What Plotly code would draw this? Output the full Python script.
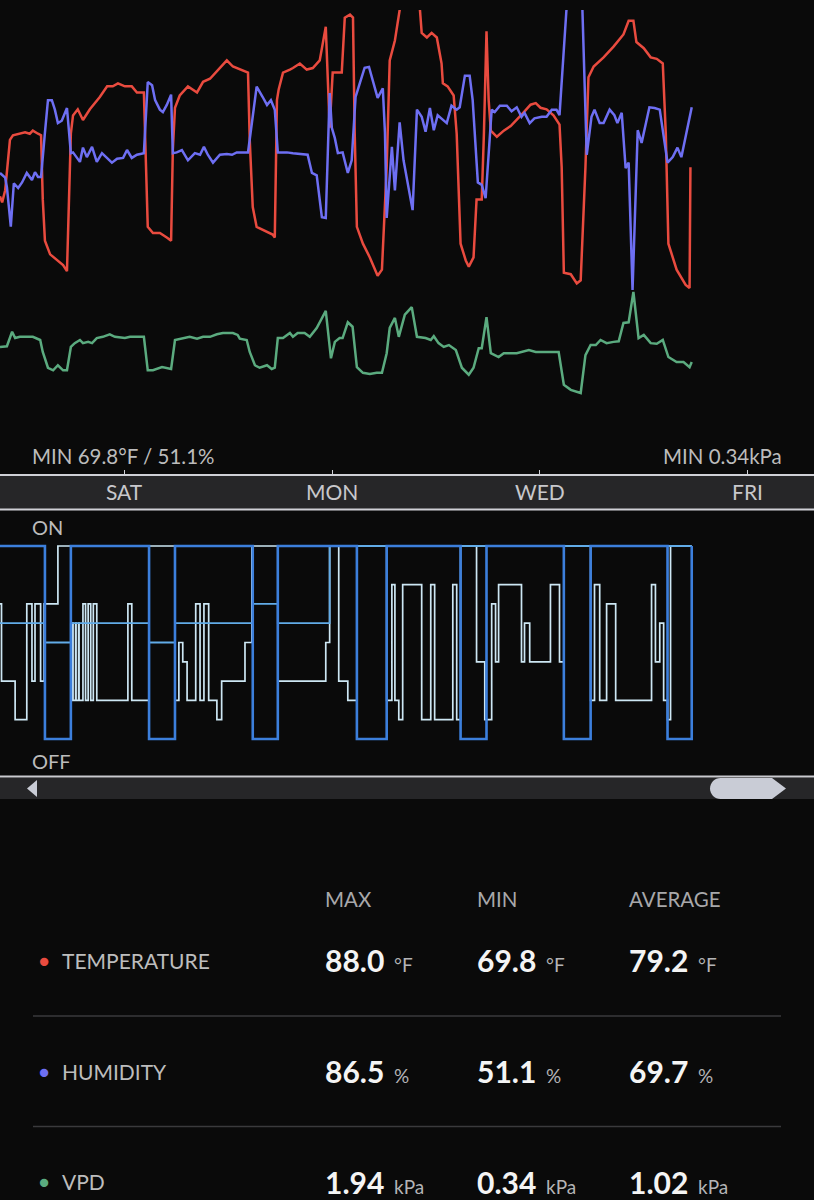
import plotly.graph_objects as go

W, H = 814, 1200
def px(x): return x / W
def py(y): return 1 - y / H

# ---------------- data (x = hours since start of window) ----------------
temp_hours = [0.0,0.5,1.2,2.3,3.0,4.6,5.8,6.9,7.6,8.8,
              9.5,9.9,10.4,11.6,13.2,14.6,15.5,16.0,16.4,16.9,
              18.0,19.2,20.8,23.1,24.8,26.1,27.3,28.9,30.5,31.7,
              33.3,33.8,34.2,35.4,37.0,38.6,39.6,40.0,40.5,41.6,
              43.5,45.6,47.0,48.6,50.9,52.5,53.9,57.4,57.8,58.5,
              59.4,60.8,63.1,63.6,64.1,64.5,65.5,67.1,67.8,69.4,
              71.0,72.4,74.0,75.4,76.3,77.0,79.1,79.8,81.0,81.7,
              82.1,82.6,84.0,85.6,87.4,88.4,89.5,90.2,91.4,92.5,
              94.8,97.2,97.6,98.8,99.9,101.1,102.2,102.5,103.6,105.0,
              105.7,106.6,107.8,108.5,109.6,110.3,111.5,112.0,112.6,113.1,
              113.6,115.0,116.6,118.2,119.6,121.2,122.8,124.0,125.1,126.5,
              128.1,129.5,130.0,130.5,132.1,133.5,134.4,135.5,136.2,137.4,
              139.7,142.0,144.3,145.5,146.6,147.3,149.0,150.6,152.0,153.4,
              154.1,154.7,156.6,158.7,159.6,159.8]
temp_values = [75.8,75.4,76.2,79.5,79.8,79.9,80.0,79.9,80.1,79.9,
               79.8,75.6,72.9,72.0,71.6,71.3,70.9,75.6,79.9,81.1,
               81.5,80.8,81.5,82.3,83.0,83.0,83.2,83.0,83.0,82.6,
               82.6,77.7,73.8,73.4,73.4,73.1,72.9,78.8,81.6,82.4,
               83.0,82.6,83.3,83.5,84.2,84.7,84.3,83.9,79.5,75.1,
               73.8,73.6,73.3,73.1,82.1,82.8,83.9,84.1,84.2,84.5,
               84.1,84.2,84.7,86.9,80.3,83.9,83.9,87.5,87.7,87.5,
               79.9,73.8,72.7,71.8,70.6,71.0,77.7,84.7,86.0,88.0,
               89.3,88.0,86.5,86.2,86.5,86.2,84.5,83.2,83.0,82.4,
               79.9,72.7,71.6,71.2,71.8,75.6,75.6,79.9,86.6,82.1,
               80.1,79.7,80.1,80.4,80.8,81.3,81.8,81.9,81.6,81.5,
               81.1,80.5,77.7,70.8,70.7,70.1,70.3,77.7,83.6,84.3,
               84.9,85.6,86.4,87.3,87.3,85.9,85.5,84.9,84.8,84.5,
               79.9,72.7,71.0,70.0,69.8,77.7]

hum_hours = [0.0,1.2,1.6,2.5,3.2,4.2,5.1,6.2,7.4,8.1,
             8.8,9.5,10.4,11.1,12.0,12.7,13.4,14.3,15.5,15.7,
             16.4,16.9,17.8,18.5,19.2,20.1,21.3,22.4,23.6,24.7,
             25.9,27.1,28.5,29.4,30.5,31.7,33.3,34.2,35.2,35.9,
             37.0,37.7,38.6,39.6,40.0,40.9,42.1,43.5,45.1,46.3,
             47.2,48.1,49.3,50.9,52.5,53.7,54.8,57.4,58.5,59.4,
             60.8,61.8,62.7,63.6,64.3,66.4,67.8,69.4,71.2,72.2,
             73.3,74.5,75.4,76.3,76.8,77.5,78.2,79.3,80.5,81.4,
             82.3,83.3,84.4,85.4,86.3,87.4,88.6,89.1,89.5,90.7,
             91.4,92.5,93.4,95.5,96.5,97.6,98.5,99.5,100.4,101.3,
             103.4,104.5,105.7,106.4,107.6,108.7,109.4,110.6,111.5,112.4,
             113.8,114.5,115.7,117.3,118.4,119.6,120.7,121.4,122.6,123.7,
             125.4,126.5,127.7,128.8,129.5,131.1,133.0,134.8,135.8,136.9,
             137.6,138.8,139.7,141.1,142.2,142.9,143.9,144.8,145.5,146.4,
             147.6,148.5,150.3,151.5,152.7,154.5,155.7,156.8,157.7,160.1]
hum_values = [65.9,65.3,64.1,59.1,64.6,64.0,64.7,65.9,65.0,66.0,
              65.4,65.4,71.0,75.1,75.1,73.9,72.2,72.5,74.1,73.0,
              68.4,68.5,67.9,67.3,69.1,67.9,69.2,67.3,68.4,67.8,
              67.2,67.7,67.8,68.8,67.8,68.2,68.4,77.4,77.0,75.1,
              73.9,73.6,74.5,75.8,68.4,68.5,68.8,67.5,68.4,68.2,
              69.2,68.2,67.2,68.2,68.3,68.2,68.5,68.5,73.5,76.8,
              75.5,74.5,75.1,73.9,68.5,68.5,68.4,68.3,68.2,65.9,
              65.6,60.3,60.2,76.0,71.6,70.3,68.4,68.5,65.9,67.5,
              75.5,77.3,79.2,79.3,77.6,75.4,76.6,71.0,60.2,69.2,
              63.7,72.3,67.5,61.2,73.9,73.0,71.1,74.1,71.3,73.2,
              72.2,74.4,73.9,74.2,78.2,78.2,75.1,64.7,64.4,62.7,
              73.9,73.6,74.4,74.4,73.7,74.2,73.0,73.5,72.2,72.8,
              73.0,73.0,73.9,73.9,73.2,86.5,90.3,86.5,68.2,73.0,
              73.9,72.2,72.2,73.9,73.2,72.2,73.5,66.5,67.2,51.1,
              71.3,69.7,74.2,74.1,73.9,67.2,67.9,69.1,67.9,74.2]

vpd_hours = [0.0,1.6,2.8,3.5,4.6,6.2,7.6,9.3,9.9,11.1,
             12.3,13.4,14.6,15.5,16.4,17.3,18.5,19.2,20.4,21.3,
             22.4,23.8,25.4,26.6,28.9,30.1,33.3,34.2,35.4,37.5,
             38.6,39.6,40.5,42.1,43.9,45.6,47.0,48.6,50.2,51.6,
             53.9,55.0,55.5,57.1,57.8,59.0,60.1,61.8,62.9,63.6,
             64.3,65.5,67.1,67.8,68.9,70.5,71.7,73.3,74.5,75.4,
             76.6,77.5,78.6,79.3,80.5,81.6,82.6,84.0,85.6,87.2,
             88.4,89.5,90.2,91.4,92.3,93.7,95.3,96.5,98.5,99.7,
             100.4,101.5,102.7,103.9,105.5,106.9,108.5,109.6,110.8,111.5,
             112.6,113.6,115.4,116.6,119.6,122.4,124.0,127.4,129.3,130.5,
             132.1,134.4,135.5,136.7,137.9,139.0,140.4,142.0,143.2,144.3,
             145.5,146.6,147.8,149.0,150.6,152.0,153.4,154.7,156.6,158.2,
             159.6,160.1]
vpd_values = [1.07,1.08,1.31,1.21,1.23,1.23,1.23,1.18,0.99,0.74,
              0.70,0.78,0.70,0.70,1.07,1.13,1.18,1.13,1.15,1.13,
              1.21,1.23,1.27,1.23,1.21,1.23,1.23,0.70,0.70,0.75,
              0.74,0.72,1.18,1.20,1.23,1.20,1.23,1.23,1.27,1.29,
              1.29,1.26,1.20,1.18,0.99,0.78,0.74,0.78,0.72,0.74,
              1.21,1.21,1.29,1.23,1.29,1.29,1.23,1.37,1.53,1.64,
              0.89,1.15,1.21,1.21,1.46,1.39,0.75,0.66,0.64,0.66,
              0.66,0.97,1.37,1.53,1.23,1.58,1.70,1.23,1.21,1.18,
              1.24,1.13,1.07,1.10,1.02,0.74,0.63,0.74,1.05,1.05,
              1.54,0.97,0.91,0.97,0.97,1.02,0.99,0.99,0.99,0.47,
              0.39,0.34,0.94,1.10,1.10,1.18,1.13,1.15,1.16,1.45,
              1.46,1.94,1.21,1.26,1.13,1.12,1.18,0.91,0.83,0.83,
              0.75,0.83]

# device levels (0 = OFF, 10 = ON)
light_hours = [0.0,10.4,16.4,34.5,40.5,58.5,64.3,82.6,89.5,106.6,112.6,130.5,136.7,154.5,160.1]
light_levels = [10,0,10,0,10,0,10,0,10,0,10,0,10,0,10]

fan_a_hours = [0.0,10.4,16.4,34.5,40.5,58.5,64.3,76.3,160.1]
fan_a_levels = [6,5,6,5,6,7,6,10,10]

fan_b_hours = [0.0,0.35,3.5,6.2,7.4,8.1,9.4,10.2,13.4,16.4,
               16.8,16.9,17.5,17.6,18.2,18.3,19.2,19.8,20.4,21.0,
               21.6,22.4,29.6,30.5,34.5,40.5,41.4,42.3,43.3,45.3,
               46.3,47.2,48.3,50.2,51.3,56.7,58.3,64.3,75.4,76.3,
               78.4,80.5,82.6,89.5,90.7,91.4,92.3,93.2,97.6,99.7,
               100.6,104.8,105.7,106.6,110.3,112.2,113.8,114.7,115.4,120.7,
               121.4,122.6,127.4,129.5,130.5,136.7,137.6,138.8,140.4,142.5,
               150.8,151.7,152.7,153.6,154.5,155.2,160.1]
fan_b_levels = [7,3,1,7,3,7,3,7,10,2,
                6,2,6,2,6,2,7,2,7,2,
                7,2,7,2,10,2,5,4,2,7,
                2,7,2,1,3,5,10,3,5,10,
                3,2,10,2,8,2,1,8,1,8,
                1,8,1,10,4,1,7,4,8,4,
                6,4,8,4,10,2,8,2,7,2,
                8,4,6,2,1,10,10]

day_tick_hours = [28.9, 76.9, 124.9, 172.9]
day_tick_labels = ["SAT", "MON", "WED", "FRI"]

metrics = ["TEMPERATURE", "HUMIDITY", "VPD"]
metric_colors = ["#e94b3f", "#6e6ff3", "#5bab7f"]
max_vals = ["88.0", "86.5", "1.94"]
min_vals = ["69.8", "51.1", "0.34"]
avg_vals = ["79.2", "69.7", "1.02"]
units = ["°F", "%", "kPa"]
headers = ["MAX", "MIN", "AVERAGE"]

# ---------------- figure ----------------
BG = "#0a0a0a"
FONT = "Lato"
X_RANGE = [0, 188.4]

fig = go.Figure()
fig.add_trace(go.Scatter(x=temp_hours, y=temp_values, mode="lines", xaxis="x", yaxis="y",
                         line=dict(color=metric_colors[0], width=2.5), hoverinfo="skip"))
fig.add_trace(go.Scatter(x=hum_hours, y=hum_values, mode="lines", xaxis="x", yaxis="y2",
                         line=dict(color=metric_colors[1], width=2.5), hoverinfo="skip"))
fig.add_trace(go.Scatter(x=vpd_hours, y=vpd_values, mode="lines", xaxis="x", yaxis="y3",
                         line=dict(color=metric_colors[2], width=2.5), hoverinfo="skip"))

fig.add_trace(go.Scatter(x=fan_b_hours, y=fan_b_levels, mode="lines", xaxis="x2", yaxis="y4",
                         line=dict(color="#cde7f4", width=1.7, shape="hv"), hoverinfo="skip"))
fig.add_trace(go.Scatter(x=fan_a_hours, y=fan_a_levels, mode="lines", xaxis="x2", yaxis="y4",
                         line=dict(color="#62ace8", width=1.8, shape="hv"), hoverinfo="skip"))
fig.add_trace(go.Scatter(x=light_hours, y=light_levels, mode="lines", xaxis="x2", yaxis="y4",
                         line=dict(color="#3c7fdc", width=2.6, shape="hv"), hoverinfo="skip"))

top_dom = [py(474), py(10)]
step_dom = [py(770), py(520)]

fig.update_layout(
    width=W, height=H,
    margin=dict(l=0, r=0, t=0, b=0, pad=0),
    paper_bgcolor=BG, plot_bgcolor=BG,
    showlegend=False,
    xaxis=dict(domain=[0, 1], range=X_RANGE, anchor="y", showgrid=False, zeroline=False,
               showline=True, linecolor="#cfd0d6", linewidth=2,
               ticks="inside", ticklen=4, tickwidth=1, tickcolor="#cfd0d6",
               tickvals=day_tick_hours, showticklabels=False, fixedrange=True),
    yaxis=dict(domain=top_dom, range=[57.62, 88.0], visible=False, fixedrange=True),
    yaxis2=dict(domain=top_dom, range=[27.84, 86.5], overlaying="y", visible=False, fixedrange=True),
    yaxis3=dict(domain=top_dom, range=[-0.943, 6.407], overlaying="y", visible=False, fixedrange=True),
    xaxis2=dict(domain=[0, 1], range=X_RANGE, anchor="y4", visible=False, fixedrange=True),
    yaxis4=dict(domain=step_dom, range=[-1.606, 11.347], anchor="x2", visible=False, fixedrange=True),
)

shapes = []
# date band
shapes.append(dict(type="rect", xref="paper", yref="paper", x0=0, x1=1, y0=py(509), y1=py(475),
                   fillcolor="#262628", line=dict(width=0), layer="below"))
shapes.append(dict(type="line", xref="paper", yref="paper", x0=0, x1=1, y0=py(509.5), y1=py(509.5),
                   line=dict(color="#cfd0d6", width=2)))
# scroll band
shapes.append(dict(type="rect", xref="paper", yref="paper", x0=0, x1=1, y0=py(799), y1=py(777.5),
                   fillcolor="#262628", line=dict(width=0), layer="below"))
shapes.append(dict(type="line", xref="paper", yref="paper", x0=0, x1=1, y0=py(776.5), y1=py(776.5),
                   line=dict(color="#c9cacf", width=2)))
# left arrow
tri = f"M {px(27)},{py(788.5)} L {px(37)},{py(780)} L {px(37)},{py(797)} Z"
shapes.append(dict(type="path", xref="paper", yref="paper", path=tri,
                   fillcolor="#c9ccd6", line=dict(width=0)))
# scroll thumb
thumb = (f"M {px(720.5)},{py(778)} L {px(772)},{py(778)} L {px(786)},{py(788.5)} "
         f"L {px(772)},{py(799)} L {px(720.5)},{py(799)} "
         f"C {px(714.7)},{py(799)} {px(710)},{py(794.3)} {px(710)},{py(788.5)} "
         f"C {px(710)},{py(782.7)} {px(714.7)},{py(778)} {px(720.5)},{py(778)} Z")
shapes.append(dict(type="path", xref="paper", yref="paper", path=thumb,
                   fillcolor="#c9ccd6", line=dict(width=0)))
# table separators
for ysep in (1016, 1126.5):
    shapes.append(dict(type="line", xref="paper", yref="paper", x0=px(33), x1=px(781),
                       y0=py(ysep), y1=py(ysep), line=dict(color="#3a3a3c", width=1.5)))

annotations = []
def txt(x, y, text, size, color, xanchor="left", xref="paper", xshift=0):
    if xanchor == "left":
        xshift -= 2
    elif xanchor == "right":
        xshift += 2
    annotations.append(dict(x=x, y=y, xref=xref, yref="paper", text=text, showarrow=False,
                            xanchor=xanchor, yanchor="middle", xshift=xshift, borderpad=0,
                            font=dict(family=FONT, size=size, color=color)))

txt(px(33), py(456), f"MIN {min_vals[0]}{units[0]} / {min_vals[1]}{units[1]}", 20.5, "#bcbcbc")
txt(px(781), py(456), f"MIN {min_vals[2]}{units[2]}", 20.5, "#bcbcbc", xanchor="right")
for h, lab in zip(day_tick_hours, day_tick_labels):
    txt(h, py(492), lab, 21, "#c8c8cc", xanchor="center", xref="x")
txt(px(33), py(526.5), "ON", 20, "#bcbcbc")
txt(px(33), py(761), "OFF", 20, "#bcbcbc")

col_x = [326, 478, 630]
for cx, hd in zip(col_x, headers):
    txt(px(cx), py(898.5), hd, 20.5, "#a8a8aa")

row_y = [960, 1071, 1181.5]
for i, ry in enumerate(row_y):
    txt(px(44), py(ry), "●", 17, metric_colors[i], xanchor="center")
    txt(px(63), py(ry), metrics[i], 21, "#bdbdbd")
    for cx, vals in zip(col_x, (max_vals, min_vals, avg_vals)):
        t = (f"<b>{vals[i]}</b><span style='font-size:19px;color:#b4b4b6'>"
             f"\u00a0\u00a0{units[i]}</span>")
        txt(px(cx), py(ry), t, 30, "#f4f4f4")

fig.update_layout(shapes=shapes, annotations=annotations)
fig.write_html("out.html")
